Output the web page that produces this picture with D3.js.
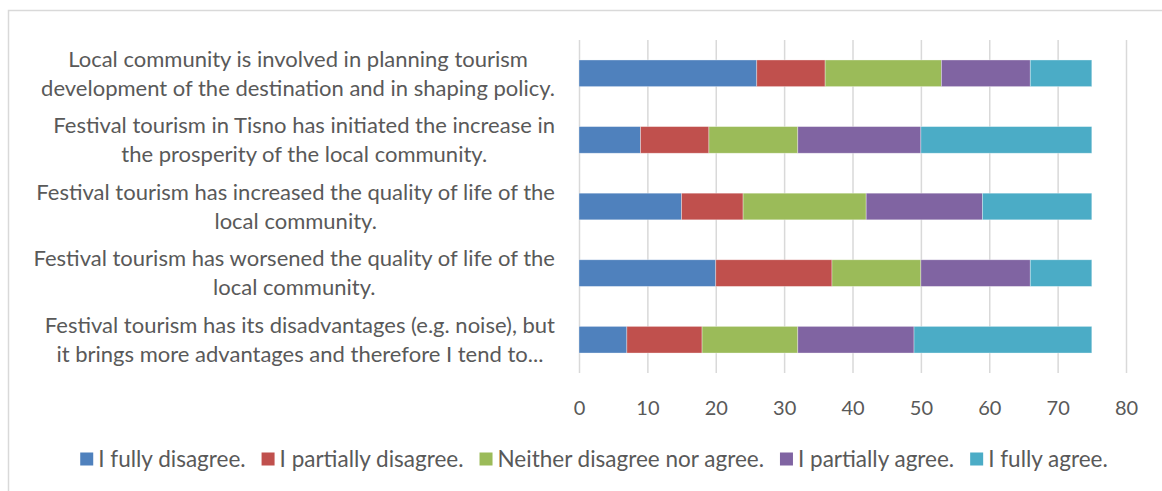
<!DOCTYPE html>
<html>
<head>
<meta charset="utf-8">
<script src="https://cdn.jsdelivr.net/npm/d3@7"></script>
<style>
  body { margin: 0; background: #fff; }
  svg { display: block; }
  text { font-family: Lato, "Open Sans", sans-serif; fill: #595959; }
</style>
</head>
<body>
<div id="chart"></div>
<script>
// category labels, already wrapped the way the picture shows them
const categories = [
  ["Local community is involved in planning tourism", "development of the destination and in shaping policy."],
  ["Festival tourism in Tisno has initiated the increase in", "the prosperity of the local community."],
  ["Festival tourism has increased the quality of life of the", "local community."],
  ["Festival tourism has worsened the quality of life of the", "local community."],
  ["Festival tourism has its disadvantages (e.g. noise), but", "it brings more advantages and therefore I tend to..."]
];
const seriesNames = ["I fully disagree.", "I partially disagree.", "Neither disagree nor agree.", "I partially agree.", "I fully agree."];
const fullyDisagree = [26, 9, 15, 20, 7];
const partiallyDisagree = [10, 10, 9, 17, 11];
const neitherNor = [17, 13, 18, 13, 14];
const partiallyAgree = [13, 18, 17, 16, 17];
const fullyAgree = [9, 25, 16, 9, 26];
const xTicks = [0, 10, 20, 30, 40, 50, 60, 70, 80];
const colors = ["#4f81bd", "#c0504d", "#9bbb59", "#8064a2", "#4bacc6"];

const W = 1162, H = 491;
const plot = { left: 579, right: 1126, top: 40, bottom: 373 };
const labelRight = 555;

const seriesValues = [fullyDisagree, partiallyDisagree, neitherNor, partiallyAgree, fullyAgree];
const keys = seriesNames;
const rows = categories.map((c, i) => {
  const r = { id: i };
  keys.forEach((k, j) => r[k] = seriesValues[j][i]);
  return r;
});

const svg = d3.select("#chart").append("svg")
  .attr("width", W).attr("height", H);

// outer chart border (cut at the right and bottom like the picture)
svg.append("rect")
  .attr("x", 8.5).attr("y", 10.5)
  .attr("width", W + 20).attr("height", H + 20)
  .attr("fill", "none").attr("stroke", "#d9d9d9").attr("stroke-width", 1.5);

const x = d3.scaleLinear().domain([0, 80]).range([plot.left, plot.right]);
const y = d3.scaleBand()
  .domain(rows.map(d => d.id))
  .range([plot.top, plot.bottom])
  .paddingInner(0.6).paddingOuter(0.3);
const color = d3.scaleOrdinal().domain(keys).range(colors);

// gridlines + tick labels
const xAxis = d3.axisBottom(x)
  .tickValues(xTicks)
  .tickSize(-(plot.bottom - plot.top))
  .tickPadding(0);
const gx = svg.append("g")
  .attr("transform", `translate(0,${plot.bottom})`)
  .call(xAxis);
gx.select(".domain").remove();
gx.selectAll(".tick line").attr("stroke", "#d9d9d9").attr("stroke-width", 1.5);
gx.selectAll(".tick text")
  .attr("y", 35)
  .attr("dy", "0.35em")
  .style("font-size", "20px")
  .style("font-family", "Lato, sans-serif")
  .attr("fill", "#595959");

// stacked bars
const stacked = d3.stack().keys(keys)(rows);
svg.append("g")
  .selectAll("g")
  .data(stacked)
  .join("g")
  .attr("fill", d => color(d.key))
  .selectAll("rect")
  .data(d => d)
  .join("rect")
  .attr("x", d => x(d[0]))
  .attr("y", d => y(d.data.id))
  .attr("width", d => x(d[1]) - x(d[0]))
  .attr("height", y.bandwidth())
  .attr("stroke", "#ffffff")
  .attr("stroke-opacity", 0.45)
  .attr("stroke-width", 0.75);

// category labels: block right-aligned at labelRight, lines centred inside
const lineH = 29;
const labels = svg.append("g").style("font-size", "22px");
categories.forEach((lines, i) => {
  const cy = y(i) + y.bandwidth() / 2;
  const g = labels.append("g");
  const ts = lines.map((l, k) => g.append("text")
    .attr("text-anchor", "middle")
    .attr("dy", "0.35em")
    .attr("y", cy + (k - (lines.length - 1) / 2) * lineH)
    .text(l));
  const maxW = d3.max(ts, t => t.node().getComputedTextLength());
  ts.forEach(t => t.attr("x", labelRight - maxW / 2));
});

// legend
const legend = svg.append("g").style("font-size", "22.5px");
const items = keys.map((k, i) => {
  const g = legend.append("g");
  g.append("rect").attr("width", 13).attr("height", 13).attr("y", -6.5).attr("fill", colors[i]);
  const t = g.append("text").attr("x", 18).attr("dy", "0.35em").text(k);
  return { g, w: 18 + t.node().getComputedTextLength() };
});
const gap = 16;
const total = d3.sum(items, d => d.w) + gap * (items.length - 1);
let lx = 594 - total / 2;
items.forEach(it => {
  it.g.attr("transform", `translate(${lx},459)`);
  lx += it.w + gap;
});
</script>
</body>
</html>
